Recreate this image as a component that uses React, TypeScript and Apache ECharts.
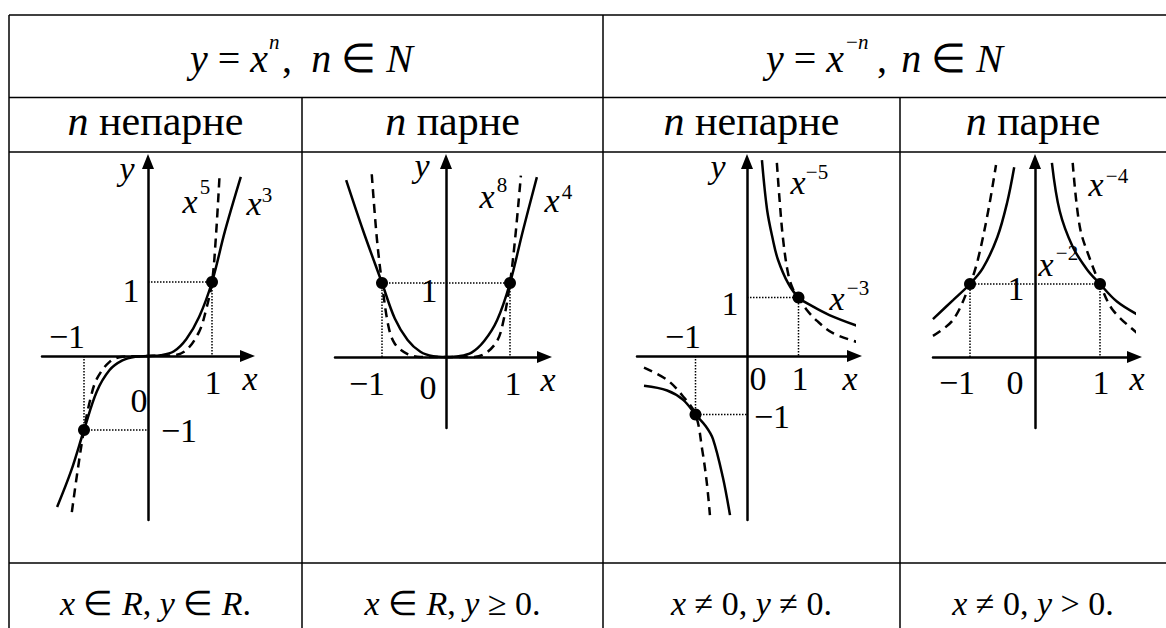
import React, { useEffect, useRef } from "react";
import * as echarts from "echarts";

// ---------------- texts ----------------
const subHeaders = ["{i|n} непарне", "{i|n} парне", "{i|n} непарне", "{i|n} парне"];
const domainTexts = [
  "{i|x} ∈ {i|R}, {i|y} ∈ {i|R}.",
  "{i|x} ∈ {i|R}, {i|y} ≥ 0.",
  "{i|x} ≠ 0, {i|y} ≠ 0.",
  "{i|x} ≠ 0, {i|y} > 0.",
];

// ---------------- curves ----------------
// y = x^3 (solid) and y = x^5 (dashed)
const powCube = [[-1.42, -2.04], [-1.2, -1.55], [-1.0, -1.0], [-0.8, -0.48], [-0.6, -0.19], [-0.4, -0.06], [-0.2, -0.01], [0, 0], [0.2, 0.01], [0.4, 0.06], [0.6, 0.23], [0.8, 0.53], [1.0, 1.0], [1.2, 1.68], [1.45, 2.42]];
const powFifth = [[-1.19, -2.11], [-1.1, -1.55], [-1.0, -1.0], [-0.9, -0.58], [-0.8, -0.31], [-0.6, -0.08], [-0.4, -0.01], [0, 0], [0.4, 0.01], [0.6, 0.08], [0.8, 0.33], [0.9, 0.6], [1.0, 1.0], [1.06, 1.6], [1.12, 2.47]];
// y = x^4 (solid) and y = x^8 (dashed)
const powFourth = [[-1.56, 2.39], [-1.3, 1.72], [-1.0, 1.0], [-0.8, 0.52], [-0.6, 0.23], [-0.4, 0.07], [-0.2, 0.01], [0, 0], [0.2, 0.01], [0.4, 0.06], [0.6, 0.22], [0.8, 0.5], [1.0, 1.0], [1.2, 1.7], [1.42, 2.43]];
const powEighth = [[-1.16, 2.47], [-1.08, 1.6], [-1.0, 1.0], [-0.9, 0.42], [-0.8, 0.18], [-0.6, 0.04], [-0.4, 0], [0, 0], [0.4, 0], [0.6, 0.04], [0.8, 0.22], [0.9, 0.5], [1.0, 1.0], [1.08, 1.6], [1.17, 2.45]];
// y = x^-3 (solid) and y = x^-5 (dashed)
const invCubeRight = [[0.29, 3.35], [0.39, 2.5], [0.5, 2.0], [0.6, 1.65], [0.8, 1.24], [1.0, 1.0], [1.25, 0.86], [1.6, 0.7], [2.19, 0.5]];
const invCubeLeft = [[-2.0, -0.51], [-1.55, -0.59], [-1.24, -0.75], [-1.0, -1.0], [-0.8, -1.2], [-0.66, -1.42], [-0.47, -2.07], [-0.33, -2.72]];
const invFifthRight = [[0.58, 3.3], [0.63, 2.7], [0.7, 2.0], [0.8, 1.4], [0.9, 1.13], [1.0, 1.0], [1.15, 0.8], [1.36, 0.6], [1.67, 0.39], [2.14, 0.24]];
const invFifthLeft = [[-2.0, -0.2], [-1.55, -0.41], [-1.26, -0.67], [-1.0, -1.0], [-0.87, -1.6], [-0.78, -2.17], [-0.72, -2.72]];
// y = x^-2 (solid) and y = x^-4 (dashed)
const invSquareRight = [[0.26, 2.66], [0.38, 2.0], [0.58, 1.51], [0.8, 1.2], [1.0, 1.0], [1.26, 0.76], [1.58, 0.58]];
const invSquareLeft = [[-1.57, 0.52], [-1.26, 0.78], [-1.0, 1.0], [-0.8, 1.22], [-0.58, 1.64], [-0.43, 2.11], [-0.32, 2.6]];
const invFourthRight = [[0.58, 2.66], [0.69, 1.78], [0.85, 1.33], [1.0, 1.0], [1.2, 0.64], [1.57, 0.33]];
const invFourthLeft = [[-1.57, 0.29], [-1.26, 0.51], [-1.0, 1.0], [-0.88, 1.33], [-0.72, 2.0], [-0.6, 2.63]];

// marked unit points and dotted guides
const dotsOdd = [[-1, -1], [1, 1]];
const dotsEven = [[-1, 1], [1, 1]];
const guideOddUpper = [[0, 1], [1, 1], [1, 0]];
const guideOddLower = [[-1, 0], [-1, -1], [0, -1]];
const guideEven = [[-1, 0], [-1, 1], [1, 1], [1, 0]];

// ---------------- layout ----------------
const FAMILY = "Liberation Serif";
const FS = 34;
const FH = 40;
const FSUB = 42;
const SUP = 21;

// origin px, unit px, axis ends px
const plots = [
  { ox: 148, oy: 356, ux: 64, uy: 74, xl: 42, xr: 247.5, yb: 520, yt: 161.5 },
  { ox: 446, oy: 357, ux: 64, uy: 74, xl: 335, xr: 544.5, yb: 428, yt: 161.5 },
  { ox: 747, oy: 356, ux: 51.5, uy: 58.5, xl: 637, xr: 854.5, yb: 520, yt: 161.5 },
  { ox: 1035, oy: 357, ux: 65, uy: 73, xl: 933, xr: 1134.5, yb: 428, yt: 161.5 },
];

// plot annotations: [text, x, y, kind] kind: 'r' roman, 'i' italic, 's' superscript
const plotLabels: [string, number, number, string][][] = [
  [["y", 127, 168, "i"], ["x", 190, 201, "i"], ["5", 205, 187, "s"], ["x", 254, 203, "i"], ["3", 267, 195, "s"],
   ["1", 131, 290, "r"], ["−1", 67, 336, "r"], ["1", 213, 382, "r"], ["x", 250, 378, "i"], ["0", 139, 400, "r"], ["−1", 179, 430, "r"]],
  [["y", 422, 165, "i"], ["x", 487, 196, "i"], ["8", 502, 185, "s"], ["x", 552, 200, "i"], ["4", 567, 192, "s"],
   ["1", 429, 290, "r"], ["−1", 367, 383, "r"], ["0", 428, 387, "r"], ["1", 513, 383, "r"], ["x", 548, 379, "i"]],
  [["y", 718, 166, "i"], ["x", 798, 182, "i"], ["−5", 817, 172, "s"], ["x", 837, 298, "i"], ["−3", 858, 288, "s"],
   ["1", 730, 303, "r"], ["−1", 683, 336, "r"], ["0", 758, 378, "r"], ["1", 800, 378, "r"], ["x", 850, 378, "i"], ["−1", 772, 416, "r"]],
  [["x", 1096, 184, "i"], ["−4", 1117, 176, "s"], ["x", 1046, 264, "i"], ["−2", 1067, 253, "s"],
   ["1", 1016, 288, "r"], ["−1", 957, 382, "r"], ["0", 1015, 382, "r"], ["1", 1101, 382, "r"], ["x", 1137, 378, "i"]],
];

const TL = 9, TR = 1166, C1 = 302, C2 = 603, C3 = 900;
const R0 = 15, R1 = 97.5, R2 = 152, R3 = 563, RB = 628;

function txt(text: string, x: number, y: number, opt: any = {}) {
  const size = opt.size || FS;
  const italic = !!opt.italic;
  return {
    type: "text",
    x,
    y,
    z: 100,
    silent: true,
    style: {
      text,
      fontFamily: FAMILY,
      fontSize: size,
      fontStyle: italic ? "italic" : "normal",
      fill: "#000",
      align: opt.align || "center",
      textAlign: opt.align || "center",
      verticalAlign: "middle",
      textVerticalAlign: "middle",
      rich: {
        i: { fontFamily: FAMILY, fontSize: size, fontStyle: "italic", fill: "#000" },
      },
    },
  };
}

function hline(x1: number, x2: number, y: number) {
  return { type: "line", silent: true, shape: { x1, y1: y, x2, y2: y }, style: { stroke: "#000", lineWidth: 1.5 } };
}
function vline(x: number, y1: number, y2: number) {
  return { type: "line", silent: true, shape: { x1: x, y1, x2: x, y2 }, style: { stroke: "#000", lineWidth: 1.5 } };
}

export default function App() {
  const ref = useRef<HTMLDivElement>(null);
  useEffect(() => {
    if (!ref.current) return;
    const chart = echarts.init(ref.current, null, { renderer: "svg" });

    const grids = plots.map((p) => ({ left: p.xl, top: p.yt, width: p.xr - p.xl, height: p.yb - p.yt, containLabel: false }));
    const axisCommon = {
      type: "value",
      axisTick: { show: false },
      axisLabel: { show: false },
      splitLine: { show: false },
      axisLine: { show: true, onZero: true, symbol: ["none", "triangle"], symbolSize: [12, 15], lineStyle: { color: "#000", width: 2.5 } },
    };
    const xAxes = plots.map((p, i) => ({ ...axisCommon, gridIndex: i, min: (p.xl - p.ox) / p.ux, max: (p.xr - p.ox) / p.ux }));
    const yAxes = plots.map((p, i) => ({ ...axisCommon, gridIndex: i, min: (p.oy - p.yb) / p.uy, max: (p.oy - p.yt) / p.uy }));

    const curve = (data: number[][], i: number, dashed: boolean) => ({
      type: "line", xAxisIndex: i, yAxisIndex: i, data, smooth: 0.35, symbol: "none", clip: false, silent: true, z: 3,
      lineStyle: { color: "#000", width: 2.5, type: dashed ? [9, 6] : "solid" },
    });
    const guide = (data: number[][], i: number) => ({
      type: "line", xAxisIndex: i, yAxisIndex: i, data, symbol: "none", silent: true, z: 2,
      lineStyle: { color: "#000", width: 1.5, type: [1.5, 1.5] },
    });
    const dots = (data: number[][], i: number) => ({
      type: "scatter", xAxisIndex: i, yAxisIndex: i, data, symbolSize: 12, silent: true, z: 5,
      itemStyle: { color: "#000", opacity: 1 },
    });

    const series = [
      curve(powCube, 0, false), curve(powFifth, 0, true), guide(guideOddUpper, 0), guide(guideOddLower, 0), dots(dotsOdd, 0),
      curve(powFourth, 1, false), curve(powEighth, 1, true), guide(guideEven, 1), dots(dotsEven, 1),
      curve(invCubeRight, 2, false), curve(invCubeLeft, 2, false), curve(invFifthRight, 2, true), curve(invFifthLeft, 2, true),
      guide(guideOddUpper, 2), guide(guideOddLower, 2), dots(dotsOdd, 2),
      curve(invSquareRight, 3, false), curve(invSquareLeft, 3, false), curve(invFourthRight, 3, true), curve(invFourthLeft, 3, true),
      guide(guideEven, 3), dots(dotsEven, 3),
    ];

    const graphics: any[] = [
      hline(TL, TR, R0), hline(TL, TR, R1), hline(TL, TR, R2), hline(TL, TR, R3),
      vline(TL, R0, RB), vline(C2, R0, RB), vline(C1, R1, RB), vline(C3, R1, RB),
    ];
    // headers
    graphics.push(txt("{i|y} = {i|x}", 268, 58, { align: "right", size: FH }));
    graphics.push(txt("n", 269, 42, { align: "left", italic: true, size: SUP }));
    graphics.push(txt(",", 282, 58, { align: "left", size: FH }));
    graphics.push(txt("{i|n} ∈ {i|N}", 413, 58, { align: "right", size: FH }));
    graphics.push(txt("{i|y} = {i|x}", 844, 58, { align: "right", size: FH }));
    graphics.push(txt("−", 846, 42, { align: "left", size: SUP }));
    graphics.push(txt("n", 858, 42, { align: "left", italic: true, size: SUP }));
    graphics.push(txt(",", 877, 58, { align: "left", size: FH }));
    graphics.push(txt("{i|n} ∈ {i|N}", 1003, 58, { align: "right", size: FH }));
    const colCenters = [(TL + C1) / 2, (C1 + C2) / 2, (C2 + C3) / 2, (C3 + TR) / 2];
    subHeaders.forEach((t, k) => graphics.push(txt(t, colCenters[k], 121, { size: FSUB })));
    domainTexts.forEach((t, k) => graphics.push(txt(t, colCenters[k], 603)));
    plotLabels.forEach((list) =>
      list.forEach(([t, x, y, kind]) => graphics.push(txt(t, x, y, { italic: kind === "i", size: kind === "s" ? SUP : FS })))
    );

    chart.setOption({
      animation: false,
      backgroundColor: "#fff",
      grid: grids,
      xAxis: xAxes,
      yAxis: yAxes,
      series,
      graphic: { elements: graphics },
    });
    return () => chart.dispose();
  }, []);
  return <div ref={ref} style={{ position: "absolute", left: 0, top: 0, width: 1166, height: 628 }} />;
}
